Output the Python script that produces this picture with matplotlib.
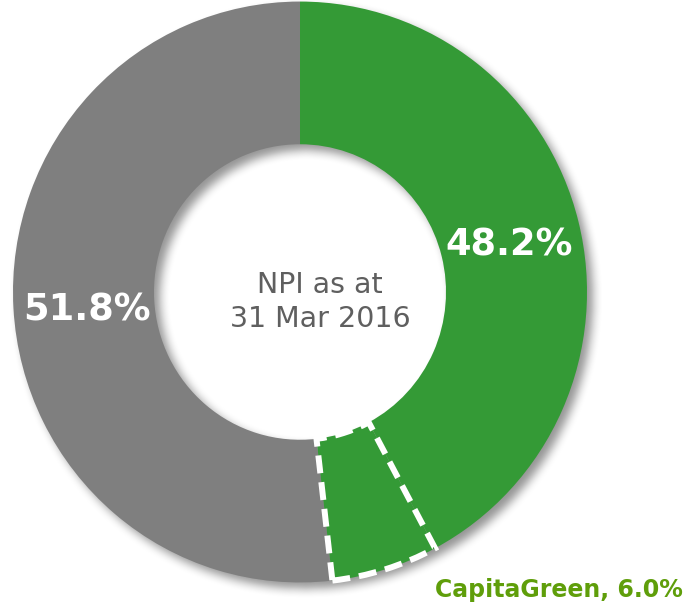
import matplotlib
matplotlib.use("Agg")
import matplotlib.pyplot as plt
import numpy as np

segments = ["Others", "CapitaGreen", "Rest"]
values = [42.2, 6.0, 51.8]
colors = ["#349a36", "#349a36", "#7f7f7f"]
green_total = 48.2
grey_total = 51.8
center_text = "NPI as at\n31 Mar 2016"
callout = "CapitaGreen, 6.0%"

W, H = 689, 608
cx, cy = 300, 292
sy = 1.012
R = 287
ring = 141

fig = plt.figure(figsize=(W / 100, H / 100), dpi=100)
ax = fig.add_axes([0, 0, 1, 1])

# blurred drop shadow (decorative)
xs = np.arange(-cx, W - cx) + 0.5
ys = (cy - np.arange(H) - 0.5) / sy
X, Y = np.meshgrid(xs, ys)
off = 6
D = np.hypot(X - off, Y + off)
mask = ((D <= R) & (D >= R - ring)).astype(float)

def box_blur(a, r):
    k = np.ones(2 * r + 1) / (2 * r + 1)
    a = np.apply_along_axis(lambda m: np.convolve(m, k, mode="same"), 0, a)
    a = np.apply_along_axis(lambda m: np.convolve(m, k, mode="same"), 1, a)
    return a

blur = box_blur(box_blur(mask, 5), 5)
rgba = np.zeros((H, W, 4))
rgba[..., 3] = blur * 0.42
ax.imshow(rgba, extent=(-cx, W - cx, -(H - cy) / sy, cy / sy), origin="upper",
          zorder=0, interpolation="bilinear", aspect="auto")

wedges, _ = ax.pie(values, colors=colors, radius=R, startangle=90, counterclock=False,
                   wedgeprops=dict(width=ring, linewidth=0))
for w in wedges:
    w.set_zorder(2)
# dashed outline for CapitaGreen
wedges[1].set_edgecolor("white")
wedges[1].set_linewidth(4.3)
wedges[1].set_linestyle((0, (3.0, 1.5)))
wedges[1].set_zorder(3)

ax.set_xlim(-cx, W - cx)
ax.set_ylim(-(H - cy) / sy, cy / sy)
ax.set_aspect("auto")
ax.axis("off")

cum = np.cumsum([0] + values)
def ang(frac_pct):
    return np.deg2rad(90 - frac_pct * 3.6)

rl = 214
a1 = ang((cum[0] + cum[1]) / 2 + 0.4)
ax.text(rl * np.cos(a1), rl * np.sin(a1), f"{green_total}%", color="white",
        fontsize=26.5, fontweight="bold", ha="center", va="center", zorder=5)
a3 = ang((cum[2] + cum[3]) / 2 - 0.4)
ax.text(rl * np.cos(a3), rl * np.sin(a3), f"{grey_total}%", color="white",
        fontsize=26.5, fontweight="bold", ha="center", va="center", zorder=5)

ax.text(20, -10 / sy, center_text, color="#5f5f5f", fontsize=20.5, ha="center", va="center",
        linespacing=1.3, zorder=5)

fig.text(683 / W, 1 - 590 / H, callout, color="#5f9e0a", fontsize=17, fontweight="bold",
         ha="right", va="center")

fig.savefig("out.png", dpi=100)
